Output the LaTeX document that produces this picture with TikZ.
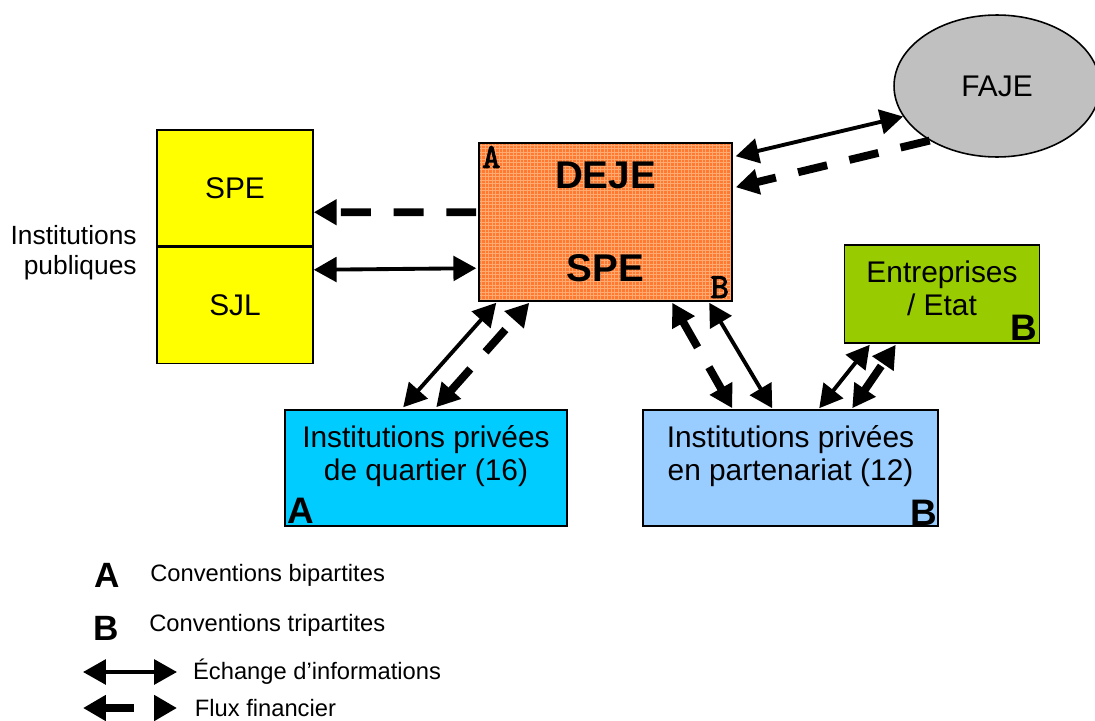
\documentclass[tikz,border=0pt]{standalone}
\usepackage{fontspec}
\setmainfont{Liberation Sans}
\newfontfamily\courierbold[FakeBold=2.5]{lmmono10-regular.otf}
\usepackage{xcolor}
\definecolor{colorPublic}{HTML}{FFFF00}
\definecolor{colorDeje}{HTML}{FF7A30}
\definecolor{colorDejeGrid}{HTML}{FFAA70}
\definecolor{colorFaje}{HTML}{C0C0C0}
\definecolor{colorFirm}{HTML}{99CC00}
\definecolor{colorQuartier}{HTML}{00CCFF}
\definecolor{colorPartner}{HTML}{99CCFF}
\newcommand\fsBox{\fontsize{17}{18.7}\selectfont}
\newcommand\fsTitle{\bfseries\fontsize{22}{53}\selectfont}
\newcommand\fsLeg{\fontsize{13.5}{16}\selectfont}
\newcommand\fsSide{\fontsize{15}{17}\selectfont}
\usepackage{tikz}
\usetikzlibrary{arrows.meta, calc, positioning, shapes.geometric}
\tikzset{
  box/.style={draw, line width=0.9pt, inner sep=0pt},
  boxtext/.style={font=\fsBox, align=center, inner sep=0pt},
  letter/.style={font=\bfseries\fontsize{21}{21}\selectfont, inner sep=1pt},
  monoletter/.style={font=\courierbold\fontsize{20}{20}\selectfont, inner sep=2pt},
  legtext/.style={font=\fsLeg, inner sep=0pt},
  info/.style={line width=2.2pt, <->},
  money/.style={line width=4.5pt, dash pattern=on 17pt off 13pt},
}

\begin{document}
\begin{tikzpicture}[x=0.02cm, y=-0.02cm, >={Triangle[length=13pt, width=14pt]}, node distance=0pt]
\useasboundingbox (0,0) rectangle (1095,720);

% institutions publiques
\node[box, fill=colorPublic, minimum width=3.12cm, minimum height=2.32cm, font=\fsBox] (yspe) at (235,188) {SPE};
\node[box, fill=colorPublic, minimum width=3.12cm, minimum height=2.32cm, font=\fsBox, below=of yspe] (ysjl) {SJL};
\node[font=\fsSide, align=right, anchor=east, inner sep=0pt] (public) at (137,253) {Institutions\\publiques};

% DEJE / SPE
\node[box, fill=colorDeje, minimum width=5.06cm, minimum height=3.16cm, align=center, font=\fsTitle,
  path picture={\draw[colorDejeGrid, line width=0.45pt] (path picture bounding box.south west) grid[step=0.07cm] (path picture bounding box.north east);}]
  (deje) at (605.5,222) {DEJE\\SPE};
\node[monoletter, anchor=north west] (dejeA) at (deje.north west) {A};
\node[monoletter, anchor=south east] (dejeB) at (deje.south east) {B};

% FAJE
\node[draw, ellipse, fill=colorFaje, line width=0.9pt, minimum width=4.12cm, minimum height=2.84cm, font=\fsBox] (faje) at (997,86) {FAJE};

% entreprises
\node[box, fill=colorFirm, minimum width=3.9cm, minimum height=1.96cm] (firm) at (942,294) {};
\node[boxtext] (firmtxt) at (942,288) {Entreprises\\/ Etat};
\node[letter, anchor=south east, inner sep=1.5pt] (firmB) at (firm.south east) {B};

% institutions privees
\node[box, fill=colorQuartier, minimum width=5.64cm, minimum height=2.32cm] (quart) at (426,468) {};
\node[boxtext] (quarttxt) at (426,456) {Institutions privées\\de quartier (16)};
\node[letter, anchor=south west, inner sep=1.5pt] (quartA) at (quart.south west) {A};
\node[box, fill=colorPartner, minimum width=5.9cm, minimum height=2.32cm] (part) at (790.5,468) {};
\node[boxtext] (parttxt) at (790.5,456) {Institutions privées\\en partenariat (12)};
\node[letter, anchor=south east, inner sep=0.5pt] (partB) at (part.south east) {B};

% liaisons
\draw[info] ($(deje.north east)+(3,14)$) -- (faje.198);
\draw[money, ->] (faje.219) -- ($(deje.north east)+(3,45)$);
\draw[money, ->] ($(deje.north west)+(-2,70)$) -- ($(yspe.north east)+(0,83)$);
\draw[info] ($(ysjl.north east)+(0,23)$) -- ($(deje.north west)+(-2,126)$);
\draw[info] ($(quart.north west)+(119,-2)$) -- ($(deje.south west)+(18,1)$);
\draw[money, <->] ($(quart.north west)+(152,-2)$) -- ($(deje.south west)+(51,1)$);
\draw[money, <->] ($(deje.south west)+(194,1)$) -- ($(part.north west)+(90,-1)$);
\draw[info] ($(deje.south west)+(231,1)$) -- ($(part.north west)+(130,-1)$);
\draw[info] ($(part.north west)+(177,-1)$) -- ($(firm.south west)+(26,1)$);
\draw[money, <->] ($(part.north west)+(210,-1)$) -- ($(firm.south west)+(52,1)$);

% legende
\node[letter, font=\bfseries\fontsize{20}{20}\selectfont, inner sep=0pt] (legA) at (107,575) {A};
\node[legtext, right=17pt of legA] (legAtxt) {Conventions bipartites};
\node[letter, font=\bfseries\fontsize{20}{20}\selectfont, inner sep=0pt] (legB) at (106,628) {B};
\node[legtext, right=17pt of legB, yshift=1.5pt] (legBtxt) {Conventions tripartites};
\coordinate (infoL) at (83,672);
\coordinate (infoR) at (177,672);
\draw[info] (infoL) -- (infoR);
\node[legtext, right=9pt of infoR] (infotxt) {Échange d’informations};
\coordinate (moneyL) at (83,708);
\coordinate (moneyR) at (177,708);
\draw[money, <->] (moneyL) -- (moneyR);
\node[legtext, right=10pt of moneyR] (moneytxt) {Flux financier};
\end{tikzpicture}
\end{document}
